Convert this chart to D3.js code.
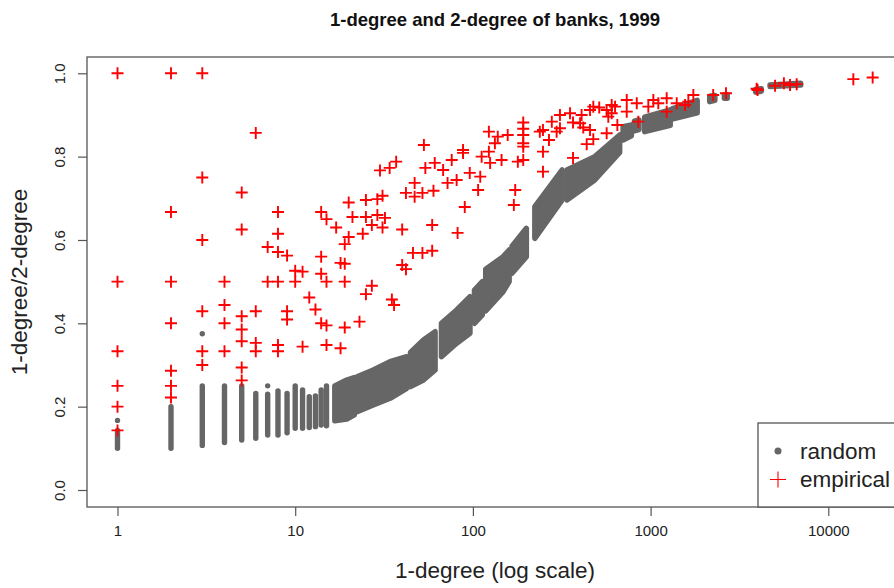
<!DOCTYPE html>
<html>
<head>
<meta charset="utf-8">
<script src="https://cdn.jsdelivr.net/npm/d3@7"></script>
<style>
  body { margin: 0; background: #fff; }
  svg { display: block; font-family: "Liberation Sans", Arial, Helvetica, sans-serif; }
</style>
</head>
<body>
<svg width="894" height="588"></svg>
<script>
var title = '1-degree and 2-degree of banks, 1999',
	xTitle = '1-degree (log scale)',
	yTitle = '1-degree/2-degree'

var degreeTicks = [1, 10, 100, 1000, 10000],
	ratioTicks = [0, 0.2, 0.4, 0.6, 0.8, 1.0]

// random network: one column of points per small degree [degree, low, high]
var randomColumns = [
	[1, 0.1, 0.143], [2, 0.1, 0.2], [3, 0.107, 0.25], [4, 0.114, 0.25],
	[5, 0.12, 0.25], [6, 0.124, 0.232], [7, 0.132, 0.23], [8, 0.132, 0.238],
	[9, 0.1375, 0.232], [10, 0.148, 0.25], [11, 0.148, 0.24], [12, 0.15, 0.224],
	[13, 0.152, 0.226], [14, 0.156, 0.24], [15, 0.154, 0.25]
]

// lone random points
var randomSingles = [[1, 0.167], [3, 0.375], [7, 0.25]]

// random network, where the columns merge into a band: chunks of [degree, low, high]
var randomBand = [
	[[16.7, 0.166, 0.25], [19.5, 0.17, 0.264], [21.5, 0.18, 0.27]],
	[[22.3, 0.188, 0.272], [27.5, 0.204, 0.288], [34.2, 0.22, 0.308], [42.4, 0.244, 0.32]],
	[[44.5, 0.248, 0.33], [52.7, 0.264, 0.36], [61.3, 0.288, 0.38]],
	[[66.5, 0.32, 0.40], [81, 0.352, 0.432], [96.3, 0.376, 0.464]],
	[[102, 0.40, 0.48], [113, 0.42, 0.50]],
	[[118, 0.43, 0.53], [148, 0.476, 0.56], [160, 0.50, 0.576]],
	[[166, 0.52, 0.585], [200, 0.56, 0.628]],
	[[223, 0.604, 0.68], [318, 0.696, 0.768]],
	[[338, 0.696, 0.768], [485, 0.744, 0.80], [670, 0.81, 0.852]],
	[[700, 0.84, 0.872], [780, 0.85, 0.876]],
	[[810, 0.862, 0.885], [860, 0.865, 0.888]],
	[[925, 0.86, 0.895], [1290, 0.875, 0.912]],
	[[1320, 0.89, 0.915], [1830, 0.905, 0.935]],
	[[2150, 0.932, 0.945], [2300, 0.935, 0.947]],
	[[2600, 0.94, 0.948], [2700, 0.94, 0.948]],
	[[3900, 0.955, 0.962], [4200, 0.957, 0.963]],
	[[4700, 0.968, 0.972], [7000, 0.972, 0.976]]
]

// empirical network [degree, ratio]
var empirical = [
	[1, 1], [1, 0.5], [1, 0.333], [1, 0.25], [1, 0.2], [1, 0.143],
	[2, 1], [2, 0.667], [2, 0.5], [2, 0.4], [2, 0.286], [2, 0.25], [2, 0.222],
	[3, 1], [3, 0.75], [3, 0.6], [3, 0.429], [3, 0.333], [3, 0.3],
	[4, 0.5], [4, 0.444], [4, 0.4], [4, 0.333],
	[5, 0.714], [5, 0.625], [5, 0.417], [5, 0.385], [5, 0.357], [5, 0.294], [5, 0.263],
	[6, 0.857], [6, 0.429], [6, 0.353], [6, 0.333],
	[7, 0.583], [7, 0.5],
	[8, 0.667], [8, 0.615], [8, 0.571], [8, 0.5], [8, 0.348], [8, 0.333],
	[9, 0.5625], [9, 0.429], [9, 0.409],
	[10, 0.526], [10, 0.5],
	[11, 0.524], [11, 0.344], [12, 0.462], [13, 0.433],
	[14, 0.667], [14, 0.56], [14, 0.519], [14, 0.4],
	[15, 0.65], [15, 0.5], [15, 0.395], [15, 0.348],
	[17, 0.63], [18, 0.545], [18, 0.34],
	[19, 0.59], [19, 0.543], [19, 0.5], [19, 0.39],
	[20, 0.69], [20, 0.607], [21, 0.655], [23, 0.404], [24, 0.615],
	[25, 0.696], [25, 0.655], [25, 0.47], [27, 0.636], [27, 0.49],
	[29, 0.698], [29, 0.66], [30, 0.767], [31, 0.706], [31, 0.63], [32, 0.653],
	[34, 0.773], [35, 0.457], [36, 0.444], [37, 0.788],
	[40, 0.625], [40, 0.54], [42, 0.713], [42, 0.53], [46, 0.569],
	[47, 0.737], [47, 0.704], [52, 0.713], [52, 0.569], [53, 0.828], [54, 0.773],
	[59, 0.636], [59, 0.574], [60, 0.718], [61, 0.785], [68, 0.768], [72, 0.737],
	[76, 0.792], [81, 0.744], [82, 0.617], [88, 0.816], [88, 0.809], [90, 0.679],
	[96, 0.761], [107, 0.72], [110, 0.752], [112, 0.80],
	[123, 0.86], [123, 0.812], [125, 0.785], [133, 0.832], [138, 0.848], [145, 0.792],
	[157, 0.852], [170, 0.684], [173, 0.72], [179, 0.788],
	[192, 0.882], [192, 0.867], [192, 0.852], [192, 0.832], [192, 0.824], [192, 0.792],
	[238, 0.86], [248, 0.864], [248, 0.812], [248, 0.764], [268, 0.84], [278, 0.884],
	[296, 0.86], [309, 0.9], [309, 0.868], [352, 0.904], [366, 0.882], [366, 0.797],
	[401, 0.88], [409, 0.9], [418, 0.87], [437, 0.83], [456, 0.912], [456, 0.864],
	[476, 0.92], [476, 0.842], [514, 0.918], [566, 0.912], [566, 0.856], [578, 0.896],
	[604, 0.924], [604, 0.904], [631, 0.92], [650, 0.876], [734, 0.936], [734, 0.908],
	[836, 0.928], [853, 0.884], [971, 0.92], [1036, 0.936], [1105, 0.928],
	[1232, 0.94], [1232, 0.908], [1403, 0.928], [1563, 0.924], [1631, 0.932],
	[1740, 0.948], [2250, 0.948], [2656, 0.952], [3950, 0.963], [4000, 0.96],
	[5017, 0.97], [5626, 0.976], [6090, 0.972], [6640, 0.974],
	[13830, 0.986], [17770, 0.99]
]

var legendItems = ['random', 'empirical']

var grey = '#666666',
	red = '#ff0000',
	frame = '#555555'

var svg = d3.select('svg'),
	box = { left: 87, top: 57, right: 904, bottom: 507 }

var x = d3.scaleLog().domain([1, 10000]).range([117.5, 828.3]),
	y = d3.scaleLinear().domain([0, 1]).range([490, 73.3])

// random: columns, band chunks, singles
var dot = 5.4
svg.append('g').selectAll('line').data(randomColumns)
	.enter().append('line')
	.attr('x1', function(d) { return x(d[0]) })
	.attr('x2', function(d) { return x(d[0]) })
	.attr('y1', function(d) { return y(d[1]) })
	.attr('y2', function(d) { return y(d[2]) })
	.attr('stroke', grey)
	.attr('stroke-width', dot)
	.attr('stroke-linecap', 'round')

var area = d3.area()
	.x(function(d) { return x(d[0]) })
	.y0(function(d) { return y(d[1]) })
	.y1(function(d) { return y(d[2]) })

svg.append('g').selectAll('path').data(randomBand)
	.enter().append('path')
	.attr('d', area)
	.attr('fill', grey)
	.attr('stroke', grey)
	.attr('stroke-width', dot)
	.attr('stroke-linejoin', 'round')

svg.append('g').selectAll('circle').data(randomSingles)
	.enter().append('circle')
	.attr('cx', function(d) { return x(d[0]) })
	.attr('cy', function(d) { return y(d[1]) })
	.attr('r', dot / 2)
	.attr('fill', grey)

// empirical pluses
function plus(sel, size, width) {
	sel.append('path')
		.attr('d', 'M' + (-size) + ',0H' + size + 'M0,' + (-size) + 'V' + size)
		.attr('stroke', red)
		.attr('stroke-width', width)
		.attr('fill', 'none')
}

svg.append('g').selectAll('g').data(empirical)
	.enter().append('g')
	.attr('transform', function(d) { return 'translate(' + x(d[0]) + ',' + y(d[1]) + ')' })
	.call(plus, 6, 1.9)

// frame
svg.append('rect')
	.attr('x', box.left).attr('y', box.top)
	.attr('width', box.right - box.left).attr('height', box.bottom - box.top)
	.attr('fill', 'none').attr('stroke', frame).attr('stroke-width', 1.3)

// axes
var xAxis = d3.axisBottom(x).tickValues(degreeTicks).tickSize(9).tickPadding(9)
	.tickFormat(d3.format('d'))
var gx = svg.append('g').attr('transform', 'translate(0,' + box.bottom + ')').call(xAxis)
gx.select('.domain').remove()
gx.selectAll('line').attr('stroke', frame).attr('stroke-width', 1.2)
gx.selectAll('text').attr('font-size', 15).attr('fill', '#222').attr('font-family', null)

var yAxis = d3.axisLeft(y).tickValues(ratioTicks).tickSize(9).tickFormat(d3.format('.1f'))
var gy = svg.append('g').attr('transform', 'translate(' + box.left + ',0)').call(yAxis)
gy.select('.domain').remove()
gy.selectAll('line').attr('stroke', frame).attr('stroke-width', 1.2)
gy.selectAll('text')
	.attr('font-size', 15).attr('fill', '#222').attr('font-family', null)
	.attr('x', null).attr('dy', null)
	.attr('text-anchor', 'middle')
	.attr('transform', 'translate(-22,0) rotate(-90)')

// titles
svg.append('text')
	.attr('x', 495).attr('y', 26)
	.attr('text-anchor', 'middle').attr('font-weight', 'bold').attr('font-size', 18.5)
	.attr('fill', '#111')
	.text(title)

svg.append('text')
	.attr('x', 495).attr('y', 578)
	.attr('text-anchor', 'middle').attr('font-size', 22.5).attr('fill', '#222')
	.text(xTitle)

svg.append('text')
	.attr('transform', 'translate(27,282) rotate(-90)')
	.attr('text-anchor', 'middle').attr('font-size', 22.5).attr('fill', '#222')
	.text(yTitle)

// legend
var legend = svg.append('g')
legend.append('rect')
	.attr('x', 758).attr('y', 423).attr('width', 200).attr('height', box.bottom - 423)
	.attr('fill', '#fff').attr('stroke', frame).attr('stroke-width', 1.3)

var rows = legend.selectAll('g.row').data(legendItems)
	.enter().append('g').attr('class', 'row')
	.attr('transform', function(d, i) { return 'translate(778,' + (451 + i * 28.5) + ')' })

rows.filter(function(d, i) { return i === 0 })
	.append('circle').attr('r', 3.5).attr('fill', grey)
rows.filter(function(d, i) { return i === 1 })
	.call(plus, 8, 1.1)
rows.append('text')
	.attr('x', 22).attr('dy', '0.35em')
	.attr('font-size', 22.5).attr('fill', '#222')
	.text(function(d) { return d })
</script>
</body>
</html>
